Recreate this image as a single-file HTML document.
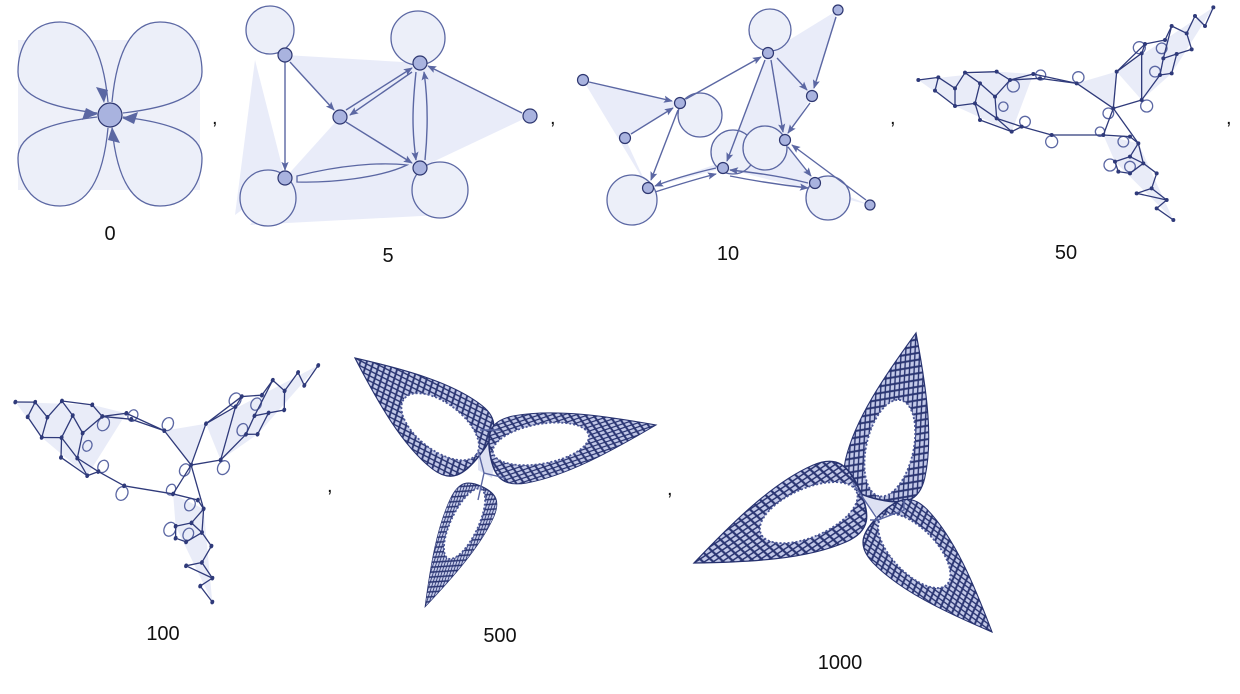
<!DOCTYPE html>
<html><head><meta charset="utf-8">
<style>
html,body{margin:0;padding:0;background:#fff;}
svg{display:block;}
text{font-family:"Liberation Sans",sans-serif;fill:#111;}
.e{stroke:#5b67a3;stroke-width:1.4;fill:none;}
.lp{fill:#eceff9;stroke:#5b67a3;stroke-width:1.3;}
.nd{fill:#a9b3df;stroke:#2d3670;stroke-width:1.2;}
.sh{fill:#c9d0ef;opacity:0.4;}
.m{stroke:#2f3a7a;stroke-width:1.3;fill:none;vector-effect:non-scaling-stroke;}
.mn{fill:#2f3a7a;}
.mc{fill:none;stroke:#5b67a3;stroke-width:1.3;vector-effect:non-scaling-stroke;}
.lobe{stroke:#27326f;stroke-width:1;vector-effect:non-scaling-stroke;}
.hole{fill:#fff;stroke:#4a5696;stroke-width:1.8;stroke-dasharray:2 2;vector-effect:non-scaling-stroke;}
</style></head>
<body>
<svg width="1240" height="694" viewBox="0 0 1240 694" xmlns="http://www.w3.org/2000/svg">
<defs>
<marker id="ar" viewBox="0 0 10 10" refX="9" refY="5" markerWidth="9" markerHeight="9" orient="auto-start-reverse" markerUnits="userSpaceOnUse">
<path d="M0,1 L10,5 L0,9 L2,5 Z" fill="#5b67a3"/></marker>
<pattern id="mesh" width="6" height="6" patternUnits="userSpaceOnUse" patternTransform="rotate(30)">
<rect width="6" height="6" fill="#c3c9e8"/>
<path d="M0,0 L6,6 M6,0 L0,6" stroke="#2a3572" stroke-width="1.3"/></pattern>
<path id="lobeShape" d="M0,0 C30,-20 60,-38 85,-38 C100,-38 104,-25 104,0 C104,25 100,38 85,38 C60,38 30,20 0,0Z"/>
</defs>

<!-- Panel 0 -->
<g>
<rect x="18" y="40" width="182" height="150" fill="#eef0f9"/>
<path class="lp" d="M108,102 C104,60 92,22 60,22 C30,22 18,48 18,72 C18,98 55,108 97,113"/>
<path class="lp" d="M112,102 C116,60 128,22 160,22 C190,22 202,48 202,72 C202,98 165,108 123,113"/>
<path class="lp" d="M108,128 C104,170 92,206 60,206 C30,206 18,180 18,158 C18,132 55,122 97,117"/>
<path class="lp" d="M112,128 C116,170 128,206 160,206 C190,206 202,180 202,158 C202,132 165,122 123,117"/>
<path d="M104,103 L96,87 L108,90Z M122,118 L138,112 L134,124Z M98,114 L82,120 L86,108Z M112,127 L120,143 L108,140Z" fill="#5b67a3"/>
<circle class="nd" cx="110" cy="115" r="12"/>
<text x="110" y="240" font-size="20" text-anchor="middle">0</text>
<text x="212" y="124" font-size="20">,</text>
</g>

<!-- Panel 5 -->
<g>
<polygon class="sh" points="285,55 420,63 340,117"/>
<polygon class="sh" points="255,60 285,178 235,215"/>
<polygon class="sh" points="420,63 530,116 420,168"/>
<polygon class="sh" points="340,117 420,63 420,168 285,178"/>
<polygon class="sh" points="285,178 420,168 440,215 250,225"/>
<circle class="lp" cx="270" cy="30" r="24"/>
<circle class="lp" cx="418" cy="38" r="27"/>
<circle class="lp" cx="268" cy="198" r="28"/>
<circle class="lp" cx="440" cy="190" r="28"/>
<path class="lp" d="M297,176 C340,165 380,162 407,165 C380,178 330,183 297,182Z" fill="#d7dcf2"/>
<line class="e" x1="285" y1="62" x2="285" y2="170" marker-end="url(#ar)"/>
<line class="e" x1="290" y1="62" x2="334" y2="110" marker-end="url(#ar)"/>
<line class="e" x1="346" y1="122" x2="412" y2="163" marker-end="url(#ar)"/>
<line class="e" x1="346" y1="110" x2="412" y2="68" marker-end="url(#ar)"/>
<line class="e" x1="412" y1="72" x2="350" y2="115" marker-end="url(#ar)"/>
<line class="e" x1="522" y1="113" x2="428" y2="66" marker-end="url(#ar)"/>
<path class="e" d="M416,72 C412,110 412,130 416,160" marker-end="url(#ar)"/>
<path class="e" d="M425,160 C428,130 428,100 424,72" marker-end="url(#ar)"/>
<circle class="nd" cx="285" cy="55" r="7"/>
<circle class="nd" cx="420" cy="63" r="7"/>
<circle class="nd" cx="340" cy="117" r="7"/>
<circle class="nd" cx="530" cy="116" r="7"/>
<circle class="nd" cx="285" cy="178" r="7"/>
<circle class="nd" cx="420" cy="168" r="7"/>
<text x="388" y="262" font-size="20" text-anchor="middle">5</text>
<text x="550" y="124" font-size="20">,</text>
</g>

<!-- Panel 10 -->
<g>
<polygon class="sh" points="583,80 680,103 625,138 648,188"/>
<polygon class="sh" points="768,53 838,10 812,96 785,140"/>
<polygon class="sh" points="723,168 785,140 815,183 870,205"/>
<polygon class="sh" points="648,188 723,168 768,53 785,140"/>
<circle class="lp" cx="700" cy="115" r="22"/>
<circle class="lp" cx="770" cy="30" r="21"/>
<circle class="lp" cx="632" cy="200" r="25"/>
<circle class="lp" cx="733" cy="152" r="22"/>
<circle class="lp" cx="765" cy="148" r="22"/>
<circle class="lp" cx="828" cy="198" r="22"/>
<line class="e" x1="589" y1="82" x2="672" y2="101" marker-end="url(#ar)"/>
<line class="e" x1="631" y1="134" x2="673" y2="108" marker-end="url(#ar)"/>
<line class="e" x1="678" y1="110" x2="651" y2="180" marker-end="url(#ar)"/>
<line class="e" x1="686" y1="99" x2="761" y2="57" marker-end="url(#ar)"/>
<line class="e" x1="765" y1="60" x2="727" y2="161" marker-end="url(#ar)"/>
<line class="e" x1="771" y1="60" x2="783" y2="132" marker-end="url(#ar)"/>
<line class="e" x1="777" y1="58" x2="807" y2="90" marker-end="url(#ar)"/>
<line class="e" x1="836" y1="17" x2="814" y2="88" marker-end="url(#ar)"/>
<line class="e" x1="810" y1="103" x2="788" y2="133" marker-end="url(#ar)"/>
<line class="e" x1="788" y1="147" x2="811" y2="176" marker-end="url(#ar)"/>
<line class="e" x1="866" y1="200" x2="792" y2="145" marker-end="url(#ar)"/>
<path class="e" d="M808,183 C780,176 750,172 730,170" marker-end="url(#ar)"/>
<path class="e" d="M716,168 C690,174 670,180 655,186" marker-end="url(#ar)"/>
<path class="e" d="M655,192 C680,184 700,178 716,174" marker-end="url(#ar)"/>
<path class="e" d="M730,176 C760,182 790,186 808,188" marker-end="url(#ar)"/>
<circle class="nd" cx="583" cy="80" r="5.5"/>
<circle class="nd" cx="680" cy="103" r="5.5"/>
<circle class="nd" cx="625" cy="138" r="5.5"/>
<circle class="nd" cx="648" cy="188" r="5.5"/>
<circle class="nd" cx="723" cy="168" r="5.5"/>
<circle class="nd" cx="768" cy="53" r="5.5"/>
<circle class="nd" cx="812" cy="96" r="5.5"/>
<circle class="nd" cx="785" cy="140" r="5.5"/>
<circle class="nd" cx="815" cy="183" r="5.5"/>
<circle class="nd" cx="838" cy="10" r="5"/>
<circle class="nd" cx="870" cy="205" r="5"/>
<text x="728" y="260" font-size="20" text-anchor="middle">10</text>
<text x="890" y="124" font-size="20">,</text>
</g>

<!-- Panel 50 -->
<g id="g50" transform="translate(900,0) scale(0.33333)"></g>
<text x="1066" y="259" font-size="20" text-anchor="middle">50</text>
<text x="1226" y="124" font-size="20">,</text>

<!-- Panel 100 -->
<g transform="matrix(0.948,0.1572,-0.3196,1.1422,-829.7,166.3)">
<use href="#g50"/>
</g>
<text x="163" y="640" font-size="20" text-anchor="middle">100</text>
<text x="327" y="492" font-size="20">,</text>

<!-- Panel 500 -->
<g>
<polygon points="478,432 500,430 492,478 478,470" fill="#dde1f3"/>
<g transform="translate(355,358) rotate(37.8) scale(1.52,1.06)">
<use href="#lobeShape" fill="url(#mesh)" class="lobe"/>
<ellipse class="hole" cx="72" cy="2" rx="30" ry="22"/></g>
<g transform="translate(656,425) rotate(169.8) scale(1.62,0.9)">
<use href="#lobeShape" fill="url(#mesh)" class="lobe"/>
<ellipse class="hole" cx="72" cy="2" rx="30" ry="22"/></g>
<g transform="translate(425,607) rotate(-64.6) scale(1.28,0.62)">
<use href="#lobeShape" fill="url(#mesh)" class="lobe"/>
<ellipse class="hole" cx="72" cy="0" rx="30" ry="22"/></g>
<path class="e" d="M478,450 L484,473 L505,478 M484,473 L478,500 M480,430 L500,430"/>
<text x="500" y="642" font-size="20" text-anchor="middle">500</text>
<text x="667" y="495" font-size="20">,</text>
</g>

<!-- Panel 1000 -->
<g>
<polygon points="855,488 880,520 904,505 900,495" fill="#dde1f3"/>
<g transform="translate(916,333) rotate(102.8) scale(1.64,1.07)">
<use href="#lobeShape" fill="url(#mesh)" class="lobe"/>
<ellipse class="hole" cx="72" cy="0" rx="30" ry="22"/></g>
<g transform="translate(694,563) rotate(-23.7) scale(1.74,1.1)">
<use href="#lobeShape" fill="url(#mesh)" class="lobe"/>
<ellipse class="hole" cx="72" cy="0" rx="30" ry="22"/></g>
<g transform="translate(992,632) rotate(-133.8) scale(1.56,1.0)">
<use href="#lobeShape" fill="url(#mesh)" class="lobe"/>
<ellipse class="hole" cx="72" cy="0" rx="30" ry="22"/></g>
<path class="e" d="M853,483 L878,520 L904,510 L904,500 M878,520 L870,520"/>
<text x="840" y="669" font-size="20" text-anchor="middle">1000</text>
</g>
</svg>
<script>
const nodes50=[[55,240],[115,232],[105,272],[165,265],[195,218],[240,250],[290,215],[330,240],[165,318],[225,310],[285,290],[240,360],[290,355],[335,395],[365,380],[400,222],[420,235],[455,405],[530,250],[640,325],[610,405],[650,215],[725,300],[780,225],[815,220],[790,175],[830,162],[860,100],[815,78],[885,48],[915,78],[940,22],[875,148],[795,120],[735,132],[725,160],[645,485],[690,470],[730,490],[770,520],[715,430],[690,410],[710,580],[755,565],[800,600],[770,625],[820,660],[655,515],[690,520]];
const edges50=[[0,1],[1,2],[1,3],[2,8],[3,4],[4,6],[3,8],[4,5],[5,9],[6,7],[5,10],[8,9],[9,11],[9,12],[10,12],[11,13],[12,13],[13,14],[7,15],[7,16],[15,18],[16,18],[10,7],[12,14],[14,17],[17,20],[18,19],[19,20],[19,21],[21,34],[21,35],[35,34],[34,33],[33,28],[28,27],[27,29],[29,30],[30,31],[28,25],[25,26],[26,32],[32,27],[25,23],[23,24],[24,26],[23,22],[22,19],[20,41],[41,40],[40,37],[37,36],[36,47],[47,48],[48,38],[38,37],[38,39],[39,43],[43,42],[42,44],[44,45],[45,46],[43,44],[40,38],[19,40],[22,35]];
const loops50=[[340,258,18],[422,225,15],[535,232,17],[375,365,16],[310,320,14],[455,425,18],[625,340,16],[740,318,18],[718,143,18],[785,145,16],[765,215,16],[670,425,16],[630,495,18],[690,500,16],[600,395,14]];
const shades50=[[[55,240],[290,215],[400,222],[335,395],[165,318]],[[530,250],[650,215],[640,325]],[[650,215],[940,22],[815,220],[725,300]],[[610,405],[715,430],[820,660],[645,485]]];
const NS='http://www.w3.org/2000/svg';
const g=document.getElementById('g50');
shades50.forEach(p=>{const el=document.createElementNS(NS,'polygon');


el.setAttribute('points',p.map(q=>q.join(',')).join(' '));el.setAttribute('fill','#d4daf2');el.setAttribute('opacity','0.5');g.appendChild(el);});
loops50.forEach(c=>{const el=document.createElementNS(NS,'circle');


el.setAttribute('cx',c[0]);el.setAttribute('cy',c[1]);el.setAttribute('r',c[2]);el.setAttribute('class','mc');g.appendChild(el);});
edges50.forEach(e=>{const a=nodes50[e[0]],b=nodes50[e[1]];const el=document.createElementNS(NS,'line');


el.setAttribute('x1',a[0]);el.setAttribute('y1',a[1]);el.setAttribute('x2',b[0]);el.setAttribute('y2',b[1]);el.setAttribute('class','m');g.appendChild(el);});
nodes50.forEach(n=>{const el=document.createElementNS(NS,'circle');


el.setAttribute('cx',n[0]);el.setAttribute('cy',n[1]);el.setAttribute('r',6);el.setAttribute('class','mn');g.appendChild(el);});
</script>
</body></html>
